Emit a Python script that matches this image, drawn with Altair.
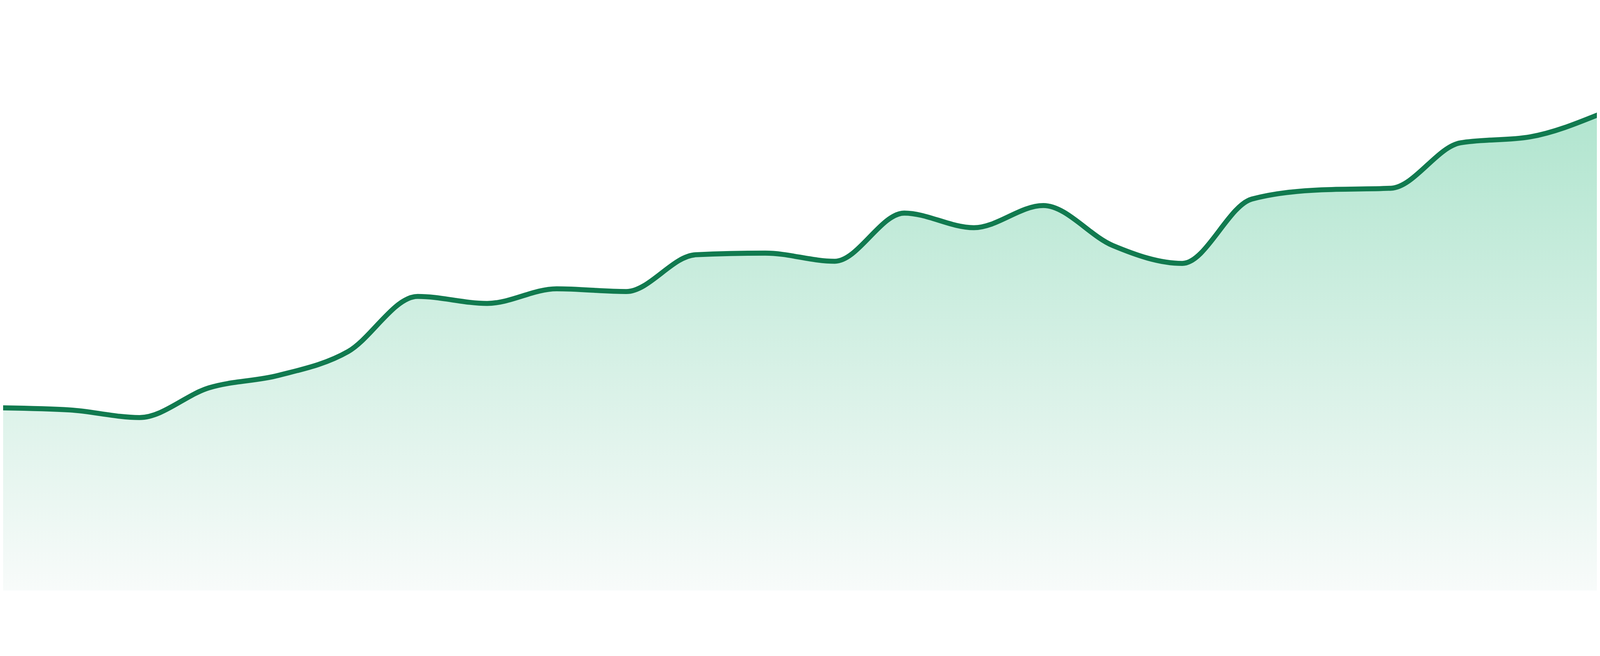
import altair as alt
import pandas as pd

# x positions (evenly spaced sample index) and the series values
step = [0, 1, 2, 3, 4, 5, 6, 7, 8, 9, 10, 11,
        12, 13, 14, 15, 16, 17, 18, 19, 20, 21, 22, 23]
value = [33.8, 33.4, 32.0, 37.5, 39.8, 44.2, 54.4, 53.1, 55.8, 55.3, 62.1, 62.4,
         60.9, 69.8, 67.1, 71.2, 63.8, 60.5, 72.4, 74.1, 74.4, 82.8, 83.9, 88.1]

LINE_COLOR = "#117a4f"
FILL_TOP = "#b1e5cf"
FILL_BOTTOM = "#f8fbfa"

df = pd.DataFrame({"step": step, "value": value})

x_enc = alt.X("step:Q", scale=alt.Scale(domain=[0.0383, 22.962], nice=False, zero=False), axis=None)
y_enc = alt.Y("value:Q", scale=alt.Scale(domain=[0, 100], nice=False, zero=True), axis=None)

area = alt.Chart(df).mark_area(
    interpolate="monotone",
    clip=True,
    color=alt.Gradient(
        gradient="linear",
        stops=[alt.GradientStop(color=FILL_TOP, offset=0),
               alt.GradientStop(color=FILL_BOTTOM, offset=1)],
        x1=0, x2=0, y1=0, y2=1,
    ),
).encode(x=x_enc, y=y_enc)

line = alt.Chart(df).mark_line(
    interpolate="monotone",
    clip=True,
    color=LINE_COLOR,
    strokeWidth=15,
    strokeCap="round",
    strokeJoin="round",
).encode(x=x_enc, y=y_enc)

chart = alt.layer(area, line).properties(
    width=4784,
    height=1624,
    padding=0,
    autosize=alt.AutoSizeParams(type="none"),
    background="white",
).configure_view(stroke=None)

chart.save("out.html", embed_options={"renderer": "svg", "actions": False})
